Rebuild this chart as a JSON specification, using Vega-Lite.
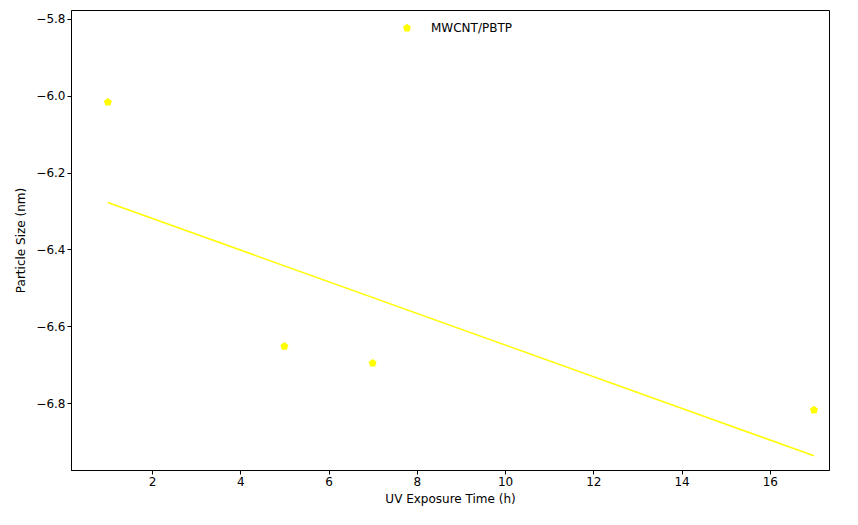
{
  "$schema": "https://vega.github.io/schema/vega-lite/v6.json",
  "width": 758,
  "height": 460,
  "autosize": "none",
  "padding": {"left": 71, "top": 10, "right": 29, "bottom": 55},
  "config": {
    "font": "DejaVu Sans",
    "view": {"stroke": "black", "strokeWidth": 1},
    "axis": {"grid": false, "labelFontSize": 12, "titleFontSize": 12, "titleFontWeight": "normal", "domainColor": "black", "tickColor": "black", "labelColor": "black", "titleColor": "black", "tickSize": 4}
  },
  "layer": [
    {
      "data": {"values": [{"t": 1, "s": -6.278}, {"t": 17, "s": -6.937}]},
      "mark": {"type": "line", "color": "#ffff00", "strokeWidth": 1.5},
      "encoding": {
        "x": {"field": "t", "type": "quantitative"},
        "y": {"field": "s", "type": "quantitative"}
      }
    },
    {
      "data": {"values": [
        {"t": 1, "s": -6.017, "series": "MWCNT/PBTP"},
        {"t": 5, "s": -6.652, "series": "MWCNT/PBTP"},
        {"t": 7, "s": -6.696, "series": "MWCNT/PBTP"},
        {"t": 17, "s": -6.818, "series": "MWCNT/PBTP"}
      ]},
      "mark": {"type": "point", "filled": true, "size": 70, "opacity": 1,
        "shape": "M0,-1L0.951,-0.309L0.588,0.809L-0.588,0.809L-0.951,-0.309Z"},
      "encoding": {
        "x": {"field": "t", "type": "quantitative", "title": "UV Exposure Time (h)",
          "scale": {"domain": [0.165, 17.34], "nice": false, "zero": false},
          "axis": {"values": [2, 4, 6, 8, 10, 12, 14, 16], "titlePadding": 6}},
        "y": {"field": "s", "type": "quantitative", "title": "Particle Size (nm)",
          "scale": {"domain": [-6.974, -5.777], "nice": false, "zero": false},
          "axis": {"values": [-6.8, -6.6, -6.4, -6.2, -6.0, -5.8], "format": ".1f", "titlePadding": 8}},
        "color": {"field": "series", "type": "nominal",
          "scale": {"domain": ["MWCNT/PBTP"], "range": ["#ffff00"]},
          "legend": {"title": null, "orient": "none", "legendX": 330, "legendY": 12, "labelFontSize": 12,
            "symbolType": "M0,-1L0.951,-0.309L0.588,0.809L-0.588,0.809L-0.951,-0.309Z", "symbolSize": 70, "labelOffset": 18}}
      }
    }
  ]
}
